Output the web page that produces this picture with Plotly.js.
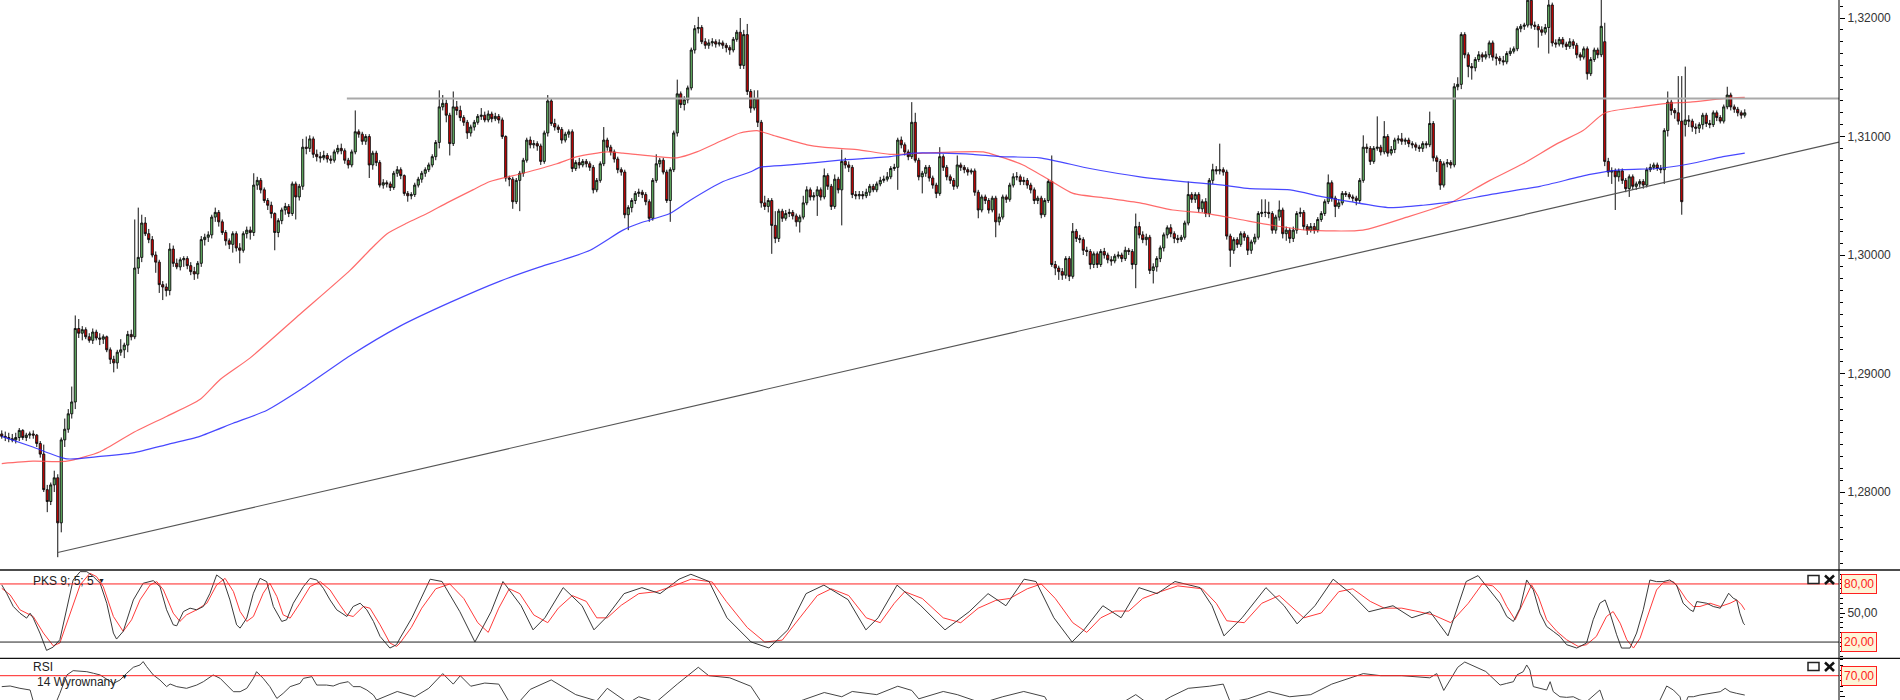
<!DOCTYPE html>
<html><head><meta charset="utf-8">
<script src="https://cdn.plot.ly/plotly-3.0.1.min.js"></script>
<style>html,body{margin:0;padding:0;background:#fff}#chart{width:1900px;height:700px}</style>
</head><body><div id="chart"></div>
<script>
// Prices are stored in pips above 1.2000 (e.g. 1052 -> 1.3052)
const barOpen = [
849,847,846,845,844,846,852,846,848,849,
848,841,832,802,792,806,812,774,844,853,
866,876,938,934,937,931,928,935,930,929,
931,920,912,909,918,920,924,933,931,989,
998,1027,1018,1013,1000,994,975,973,970,1005,
993,990,996,997,991,986,984,993,1013,1015,
1017,1032,1036,1028,1019,1012,1009,1018,1006,1004,
1018,1021,1019,1059,1063,1055,1046,1042,1035,1019,
1029,1038,1041,1035,1060,1049,1058,1091,1090,1098,
1085,1083,1082,1084,1081,1080,1087,1090,1088,1080,
1076,1087,1104,1102,1096,1100,1076,1086,1078,1059,
1061,1060,1057,1069,1072,1067,1052,1050,1051,1059,
1064,1069,1072,1076,1083,1095,1125,1128,1118,1094,
1125,1122,1116,1112,1103,1108,1112,1117,1118,1114,
1119,1115,1117,1114,1100,1065,1064,1045,1063,1069,
1080,1097,1093,1094,1092,1079,1103,1130,1111,1108,
1106,1097,1102,1104,1073,1078,1076,1079,1077,1074,
1055,1063,1077,1097,1091,1087,1081,1072,1070,1034,
1040,1046,1052,1053,1051,1045,1031,1063,1077,1080,
1070,1046,1072,1103,1136,1127,1131,1141,1173,1191,
1192,1180,1177,1179,1180,1178,1179,1177,1175,1173,
1182,1188,1160,1186,1138,1124,1132,1112,1044,1041,
1046,1025,1014,1037,1031,1035,1036,1033,1028,1032,
1044,1055,1049,1050,1055,1049,1067,1058,1041,1064,
1055,1079,1076,1074,1051,1050,1051,1050,1053,1058,
1055,1060,1063,1064,1066,1073,1074,1097,1093,1087,
1083,1112,1080,1066,1069,1074,1065,1059,1052,1083,
1074,1066,1063,1058,1076,1074,1072,1070,1071,1053,
1038,1049,1046,1038,1048,1028,1032,1049,1047,1059,
1066,1066,1062,1063,1059,1055,1046,1048,1034,1046,
1062,992,989,986,983,997,982,1020,1014,1013,
1004,1003,992,1001,992,1003,1000,996,995,999,
1000,997,1004,1003,992,1024,1017,1013,1015,987,
990,997,1006,1017,1023,1018,1014,1013,1015,1027,
1051,1047,1051,1039,1045,1035,1063,1072,1071,1072,
1070,1016,1004,1013,1009,1018,1015,1004,1011,1015,
1035,1036,1036,1035,1021,1032,1038,1018,1021,1014,
1021,1035,1036,1024,1021,1024,1021,1030,1035,1045,
1061,1048,1041,1044,1052,1051,1049,1048,1046,1063,
1091,1090,1079,1090,1091,1087,1100,1086,1089,1097,
1098,1096,1097,1094,1093,1091,1090,1094,1093,1111,
1082,1079,1059,1077,1078,1076,1142,1144,1186,1169,
1159,1158,1165,1169,1167,1169,1179,1167,1166,1164,
1163,1170,1172,1174,1191,1193,1194,1215,1194,1193,
1190,1188,1192,1211,1179,1178,1182,1178,1176,1180,
1177,1169,1167,1174,1153,1165,1173,1169,1180,1079,
1070,1071,1066,1071,1063,1056,1066,1058,1060,1062,
1059,1072,1074,1076,1073,1072,1105,1129,1122,1120,
1113,1110,1114,1113,1108,1107,1110,1118,1111,1110,
1120,1116,1113,1125,1135,1125,1123,1120,1118];
const barHigh = [
852,851,850,849,850,854,853,850,851,852,
849,843,840,806,808,818,815,846,862,870,
889,949,946,940,939,934,938,937,934,933,
932,922,915,920,929,926,936,937,1030,1040,
1034,1032,1022,1016,1003,996,978,976,1010,1008,
997,998,999,999,994,990,995,1016,1018,1020,
1034,1040,1038,1030,1021,1014,1020,1020,1010,1020,
1024,1024,1069,1066,1065,1057,1048,1045,1036,1031,
1040,1044,1043,1062,1062,1060,1098,1100,1101,1100,
1089,1087,1088,1086,1084,1089,1093,1094,1090,1082,
1089,1122,1106,1104,1102,1102,1088,1088,1080,1064,
1063,1062,1071,1075,1074,1068,1054,1053,1061,1066,
1071,1074,1078,1085,1097,1139,1135,1131,1120,1138,
1130,1126,1118,1114,1110,1114,1119,1124,1121,1122,
1121,1120,1119,1116,1101,1067,1066,1065,1071,1082,
1099,1100,1097,1096,1094,1105,1135,1132,1115,1110,
1108,1104,1106,1106,1080,1082,1081,1081,1079,1076,
1065,1079,1108,1099,1093,1089,1083,1074,1072,1042,
1048,1054,1056,1055,1053,1047,1065,1085,1082,1082,
1072,1074,1105,1148,1138,1134,1143,1175,1194,1201,
1194,1183,1182,1183,1182,1182,1181,1179,1177,1184,
1190,1200,1190,1195,1140,1139,1139,1114,1050,1048,
1048,1037,1039,1039,1038,1039,1038,1035,1034,1050,
1058,1057,1053,1058,1057,1073,1069,1060,1068,1066,
1089,1082,1079,1076,1054,1054,1054,1056,1060,1060,
1062,1066,1067,1070,1075,1077,1099,1100,1095,1089,
1129,1120,1082,1071,1076,1076,1067,1061,1091,1085,
1076,1068,1065,1084,1078,1076,1074,1073,1073,1055,
1051,1051,1048,1050,1050,1035,1051,1051,1061,1069,
1070,1068,1066,1065,1061,1057,1050,1050,1048,1064,
1084,995,991,989,999,999,1027,1022,1017,1015,
1007,1005,1003,1003,1005,1006,1002,999,1001,1003,
1002,1007,1006,1005,1035,1028,1020,1018,1017,993,
999,1008,1019,1025,1026,1020,1017,1017,1029,1062,
1053,1053,1053,1047,1048,1065,1077,1075,1094,1074,
1072,1018,1015,1015,1020,1020,1017,1013,1018,1037,
1047,1047,1045,1037,1034,1046,1040,1024,1023,1024,
1037,1040,1038,1026,1027,1027,1032,1037,1047,1068,
1063,1050,1047,1054,1054,1053,1051,1050,1065,1101,
1094,1092,1092,1117,1093,1113,1102,1092,1099,1101,
1103,1099,1099,1096,1095,1093,1096,1096,1121,1113,
1084,1081,1079,1081,1080,1145,1150,1188,1188,1171,
1162,1167,1172,1171,1172,1181,1181,1170,1168,1168,
1172,1175,1176,1193,1195,1196,1225,1220,1197,1195,
1193,1195,1220,1213,1182,1184,1184,1180,1183,1182,
1179,1171,1176,1176,1167,1175,1175,1218,1196,1082,
1074,1073,1073,1073,1065,1068,1068,1062,1064,1064,
1074,1077,1078,1078,1076,1107,1138,1131,1124,1151,
1151,1159,1118,1115,1111,1112,1120,1120,1114,1122,
1122,1118,1127,1142,1137,1127,1125,1122,1123];
const barLow = [
845,843,842,842,841,843,844,843,845,845,
838,829,800,783,789,800,745,766,838,850,
862,870,930,928,929,926,925,928,924,925,
918,908,901,904,915,913,918,928,929,984,
994,1016,1010,998,985,968,962,965,966,990,
988,987,990,988,983,979,980,990,1008,1011,
1014,1028,1024,1017,1008,1005,1002,1003,993,1002,
1014,1013,1016,1055,1052,1044,1038,1031,1004,1015,
1026,1034,1032,1033,1030,1046,1055,1085,1087,1082,
1079,1078,1080,1078,1077,1078,1085,1085,1077,1073,
1074,1085,1099,1093,1093,1065,1072,1075,1057,1056,
1057,1054,1055,1066,1064,1050,1045,1047,1049,1057,
1061,1066,1070,1074,1080,1090,1122,1112,1084,1092,
1118,1113,1109,1098,1100,1105,1110,1114,1112,1112,
1112,1113,1111,1098,1062,1058,1039,1043,1037,1066,
1078,1090,1090,1088,1076,1077,1100,1109,1105,1103,
1094,1095,1099,1070,1071,1073,1074,1074,1071,1052,
1053,1061,1075,1088,1084,1078,1069,1067,1031,1021,
1036,1043,1049,1048,1042,1028,1029,1061,1074,1068,
1044,1028,1070,1100,1124,1122,1128,1139,1170,1187,
1178,1174,1174,1176,1175,1176,1174,1171,1169,1171,
1180,1157,1157,1135,1120,1122,1108,1040,1038,1036,
1001,1010,1011,1028,1029,1032,1030,1024,1019,1030,
1042,1046,1046,1033,1046,1047,1055,1038,1039,1052,
1025,1073,1070,1048,1047,1047,1047,1048,1050,1053,
1053,1058,1061,1062,1064,1071,1055,1090,1084,1080,
1081,1078,1063,1052,1066,1062,1056,1048,1050,1071,
1063,1060,1055,1056,1071,1069,1067,1068,1050,1031,
1036,1043,1035,1036,1015,1025,1030,1044,1045,1057,
1063,1059,1059,1056,1052,1043,1043,1031,1032,1044,
990,983,979,979,980,978,980,1011,1010,1000,
999,988,989,989,990,997,993,991,993,997,
994,995,1000,988,972,1014,1010,1008,984,976,
986,994,1003,1014,1015,1010,1010,1011,1013,1025,
1044,1044,1036,1036,1032,1032,1060,1068,1068,1067,
1013,990,1001,1006,1007,1012,1000,1001,1009,1013,
1032,1032,1031,1018,1018,1029,1014,1012,1010,1011,
1018,1032,1021,1017,1019,1018,1019,1028,1033,1043,
1045,1032,1039,1042,1049,1047,1045,1042,1044,1061,
1086,1076,1077,1088,1084,1085,1083,1084,1086,1094,
1093,1093,1091,1090,1088,1087,1087,1090,1091,1079,
1070,1055,1057,1074,1073,1074,1139,1140,1166,1150,
1148,1155,1163,1163,1165,1166,1164,1160,1161,1160,
1161,1168,1170,1172,1188,1190,1192,1191,1190,1175,
1185,1186,1170,1176,1175,1176,1175,1173,1174,1174,
1166,1164,1165,1148,1151,1163,1166,1167,1075,1066,
1060,1038,1062,1060,1053,1049,1055,1055,1057,1056,
1057,1070,1072,1071,1069,1060,1100,1118,1115,1110,
1034,1100,1108,1104,1102,1103,1106,1108,1107,1108,
1113,1111,1111,1123,1122,1120,1117,1115,1116];
const barClose = [
847,846,845,844,846,852,846,848,849,848,
841,832,802,792,806,812,774,844,853,866,
876,938,934,937,931,928,935,930,929,931,
920,912,909,918,920,924,933,931,989,998,
1027,1018,1013,1000,994,975,973,970,1005,993,
990,996,997,991,986,984,993,1013,1015,1017,
1032,1036,1028,1019,1012,1009,1018,1006,1004,1018,
1021,1019,1059,1063,1055,1046,1042,1035,1019,1029,
1038,1041,1035,1060,1049,1058,1091,1090,1098,1085,
1083,1082,1084,1081,1080,1087,1090,1088,1080,1076,
1087,1104,1102,1096,1100,1076,1086,1078,1059,1061,
1060,1057,1069,1072,1067,1052,1050,1051,1059,1064,
1069,1072,1076,1083,1095,1125,1128,1118,1094,1125,
1122,1116,1112,1103,1108,1112,1117,1118,1114,1119,
1115,1117,1114,1100,1065,1064,1045,1063,1069,1080,
1097,1093,1094,1092,1079,1103,1130,1111,1108,1106,
1097,1102,1104,1073,1078,1076,1079,1077,1074,1055,
1063,1077,1097,1091,1087,1081,1072,1070,1034,1040,
1046,1052,1053,1051,1045,1031,1063,1077,1080,1070,
1046,1072,1103,1136,1127,1131,1141,1173,1191,1192,
1180,1177,1179,1180,1178,1179,1177,1175,1173,1182,
1188,1160,1186,1138,1124,1132,1112,1044,1041,1046,
1025,1014,1037,1031,1035,1036,1033,1028,1032,1044,
1055,1049,1050,1055,1049,1067,1058,1041,1064,1055,
1079,1076,1074,1051,1050,1051,1050,1053,1058,1055,
1060,1063,1064,1066,1073,1074,1097,1093,1087,1083,
1112,1080,1066,1069,1074,1065,1059,1052,1083,1074,
1066,1063,1058,1076,1074,1072,1070,1071,1053,1038,
1049,1046,1038,1048,1028,1032,1049,1047,1059,1066,
1066,1062,1063,1059,1055,1046,1048,1034,1046,1062,
992,989,986,983,997,982,1020,1014,1013,1004,
1003,992,1001,992,1003,1000,996,995,999,1000,
997,1004,1003,992,1024,1017,1013,1015,987,990,
997,1006,1017,1023,1018,1014,1013,1015,1027,1051,
1047,1051,1039,1045,1035,1063,1072,1071,1072,1070,
1016,1004,1013,1009,1018,1015,1004,1011,1015,1035,
1036,1036,1035,1021,1032,1038,1018,1021,1014,1021,
1035,1036,1024,1021,1024,1021,1030,1035,1045,1061,
1048,1041,1044,1052,1051,1049,1048,1046,1063,1091,
1090,1079,1090,1091,1087,1100,1086,1089,1097,1098,
1096,1097,1094,1093,1091,1090,1094,1093,1111,1082,
1079,1059,1077,1078,1076,1142,1144,1186,1169,1159,
1158,1165,1169,1167,1169,1179,1167,1166,1164,1163,
1170,1172,1174,1191,1193,1194,1215,1194,1193,1190,
1188,1192,1211,1179,1178,1182,1178,1176,1180,1177,
1169,1167,1174,1153,1165,1173,1169,1193,1079,1070,
1071,1066,1071,1063,1056,1066,1058,1060,1062,1059,
1072,1074,1076,1073,1072,1105,1129,1122,1120,1113,
1045,1114,1113,1108,1107,1110,1118,1111,1110,1120,
1116,1113,1125,1135,1125,1123,1120,1118,1120];

// Moving averages (bar index, pips above 1.2000)
const maRedIdx = [0,8.9,18.6,28.1,37.5,47.2,56.6,62.4,70.9,85.2,99.5,106.1,110.1,115.8,121.5,127.2,134.6,139.5,148.9,158.6,164.4,172.9,177.5,187.2,192.9,198.6,206.1,210.9,215.8,220.4,230.1,234.6,244.4,253.8,263.2,272.9,280.4,285.2,291.8,299.5,306.1,315.8,325.2,334.6,344.4,353.8,363.2,372.9,388.9,401.5,414.6,420.4,425.2,434.6,444.4,451.8,458.1,468.1,475.8,482.4,491.8,498];
const maRedVal = [824,826,826,834,850,864,878,895,913,950,987,1007,1018,1027,1035,1044,1055,1062,1069,1077,1083,1087,1086,1083,1082,1087,1097,1103,1105,1101,1093,1091,1089,1085,1086,1087,1087,1083,1076,1063,1052,1048,1044,1038,1035,1030,1025,1021,1021,1032,1045,1055,1063,1077,1094,1105,1120,1125,1128,1129,1132,1133];
const maBlueIdx = [0,8.9,18.6,28.1,37.5,47.2,56.6,66.1,75.8,85.2,99.5,113.8,128.1,142.4,153.8,160.4,168.1,177.5,182.4,190.9,196.6,206.1,213.8,216.6,225.2,239.5,253.8,260.4,268.1,277.5,285.2,296.6,310.9,325.2,337.5,348.9,356.6,368.1,377.5,385.2,396.6,406.1,414.6,425.2,439.5,453.8,463.2,472.9,482.4,491.8,498];
const maBlueVal = [847,838,828,830,833,840,847,858,869,886,915,940,960,978,990,996,1004,1021,1027,1035,1046,1062,1070,1074,1076,1080,1083,1086,1086,1085,1083,1082,1073,1066,1062,1059,1056,1055,1049,1045,1040,1042,1045,1051,1058,1068,1072,1073,1077,1083,1086];

// Drawn lines: resistance level and rising support line
const levelPrice = 1.3132, levelFromIdx = 98.6;
const supportIdx = [16, 524.9];
const supportPrice = [1.27490, 1.30952];

// Stochastic PKS 9;5;5 (%K black, %D red)
const stochKIdx = [0,1.4,3.3,5.2,7.1,8.1,9.0,10.9,12.8,14.7,16.6,18.6,20.4,22.4,24.3,26.2,28.1,30,31.9,32.8,34.7,37.6,40.4,43.3,45.2,47.1,49,50,51.9,53.8,55.7,57.6,59.5,61.4,63.3,65.2,67.1,68.1,70,71.9,73.8,75.7,77.6,80,81.4,83.3,86.2,88.1,90,91.9,93.8,95.7,98.6,100.4,102.4,104.3,106.2,108.1,110.9,112.8,113.8,117.2,122.4,125.8,130.9,135.2,139.8,143.2,148.4,151.8,155.2,160.4,165.8,169.2,172.6,177.8,182.9,188.1,193.5,196.9,202.1,207.2,214.1,219.2,224.6,229.8,234.9,241.8,246.9,250.4,255.8,262.6,269.5,276.4,281.8,286.9,292.1,295.5,300.6,305.8,309.2,314.6,319.8,324.9,330.1,335.2,342.4,345.8,349.2,354.4,361.2,366.4,370.1,375.2,380.4,385.5,390.6,397.5,402.9,408.1,413.2,418.4,421.8,428.1,430,431.9,433.8,435.7,437.6,439.5,441.4,443.3,445.2,447.1,450,452.8,454.7,456.6,458.1,459.5,461.4,462.8,465.2,467.1,469,470.9,472.8,474.7,476.6,478.5,480.4,482.4,483.3,484.3,487.1,489,491,493.4,494.7,495.7,496.6,497.6,498];
const stochKVal = [79.0,70.4,56.7,49.8,44.7,49.8,44.7,29.3,11.4,14.8,22.4,53.3,84.1,92.7,92.7,87.5,80.7,60.1,29.3,23.1,31.0,63.5,80.7,83.4,77.3,53.3,37.8,36.8,51.5,55.0,53.3,56.7,70.4,89.3,84.1,63.5,37.8,34.4,44.7,70.4,85.8,82.4,56.7,41.3,43.0,60.1,77.3,85.8,84.1,75.5,63.5,53.3,46.4,56.7,60.1,53.3,41.3,25.8,13.8,17.3,24.1,45.1,84.9,82.5,51.3,20.1,51.3,82.5,57.5,32.6,45.1,76.2,57.5,32.6,45.1,70.0,76.2,70.0,84.9,90,82.5,45.1,20.1,13.9,32.6,70.0,78.8,63.8,32.6,45.1,78.8,57.5,32.6,51.3,70.0,57.5,84.9,82.5,45.1,20.1,32.6,57.5,45.1,76.2,70.0,82.5,76.2,57.5,26.4,45.1,76.2,57.5,38.8,57.5,84.9,70.0,51.3,57.5,45.1,51.3,26.4,82.5,88.6,60.1,46.4,41.3,55.0,84.1,73.8,49.8,36.1,31.0,25.8,17.3,13.8,19.0,43.0,60.1,63.5,49.8,27.5,13.8,13.8,29.3,53.3,84.1,82.4,82.4,84.1,79.0,60.1,53.3,51.5,61.8,60.1,56.7,55.0,70.4,65.3,63.5,49.8,39.5,37.8];
const stochDIdx = [0,2.4,5.2,9,11.9,14.7,16.6,19.5,22.4,25.2,27.1,29,31.9,34.7,37.1,39.5,42.4,44.3,46.2,49,50.9,52.8,55.7,58.6,61.4,63.8,66.2,68.1,70,71.9,74.7,76.6,78.6,80.4,82.4,85.2,88.1,91,93.8,96.6,98.6,100.4,103.3,105.2,108.1,110.9,112.8,113.8,117,120,124,128,132,136,139,142,145,148,152,156,159,163,167,170,173,177,182,187,192,197,203,207,213,218,223,228,233,237,242,247,251,255,258,263,269,274,279,284,288,293,297,301,306,310,314,318,322,326,331,336,343,347,350,355,360,365,369,372,377,382,386,391,395,400,404,409,414,419,423,426,428.1,430,432.4,434.7,437.1,439,441.4,444.3,447.1,450.4,452.8,455.6,458.5,460.4,462.4,464.3,466.2,468.1,470.5,472.8,474.7,477.6,479.5,481.4,483.3,485.2,488.1,491,493.8,495.7,497.1,498];
const stochDVal = [75.5,68.7,53.3,46.4,29.3,16.2,19.0,49.8,79.0,91.0,87.5,77.3,46.4,31.0,43.0,63.5,79.0,82.4,73.8,49.8,41.3,48.1,53.3,60.1,79.0,85.8,72.1,51.5,41.3,46.4,70.4,80.7,67.0,48.1,44.7,60.1,77.3,82.4,73.8,58.4,48.1,46.4,56.7,55.0,37.8,19.0,15.5,19.0,35,55,75,80,65,40,30,55,75,70,48,40,55,68,62,45,45,58,70,72,78,85,82,62,35,20,22,45,68,75,68,45,40,60,72,65,45,40,55,63,65,75,80,65,40,30,45,52,52,65,72,78,75,60,42,40,60,68,55,45,50,72,75,62,55,55,52,48,40,60,80,78,70.4,56.7,43.0,60.1,79.0,67.0,43.0,31.0,22.4,15.5,17.3,25.8,46.4,51.5,39.5,22.4,13.8,24.1,49.8,73.8,81.4,82.4,73.8,63.5,56.7,56.7,60.1,56.7,60.1,63.5,58.4,53.3];

// RSI 14
const rsiIdx = [0,2.4,5.2,8.1,8.9,10.9,13.8,15.2,16.6,18.6,20.4,24.3,26.2,28.1,31.9,33.8,35.7,37.6,39.5,40.4,41.4,43.3,45.2,47.1,48.1,50,52.8,55.7,57.6,60.4,62.4,64.3,66.2,68.1,70,71.9,72.8,74.7,76.6,78.6,80.4,82.4,85.2,86.2,88.6,90,92.8,94.7,96.6,99,100.4,102.4,104.3,106.2,107.1,113,118,122,126,129,131,134,138,142,145,147,151,157,161,164,170,173,179,182,187,193,199,202,208,214,218,222,229,235,240,243,250,256,260,262,269,273,280,286,292,298,300,306,312,320,324,329,334,339,345,349,351,356,362,368,374,380,389,394,400,408,410,412,416,418,424,428.1,430,431.9,432.9,434.7,435.7,436.6,437.6,439.5,441.4,442.4,443.3,445.2,447.1,449,450.9,452.8,456.6,457.6,458.4,472.6,473.8,475.7,477.6,479.5,480.4,481.8,483.3,485.2,488.1,491,492.4,493.8,495.7,498];
const rsiVal = [59.6,60.2,58.0,56.4,46.9,40,38,42,53.2,70.7,74.8,73.8,72.3,70.7,62.7,65.9,72.3,78.0,80.2,83.4,78.6,70.7,65.9,59.6,62.1,59.6,58.0,61.1,64.3,70.7,67.5,61.1,54.8,54.8,58.0,67.5,73.8,67.5,59.6,48.4,53.2,59.6,62.7,67.5,69.1,61.1,61.1,60.2,62.7,64.3,59.6,59.6,56.4,51.6,46.9,55,50,58,72,62,70,60,63,62,45,42,57,66,58,52,46,58,44,50,45,62,78,70,68,60,40,38,47,54,50,55,52,60,56,48,55,52,44,50,55,50,38,45,40,44,52,40,50,58,60,62,45,48,55,50,52,62,72,70,70,68,72,56,78,83,74,61.1,62.7,64.3,70.7,73.8,80.2,75.4,59.6,58.0,56.4,64.3,54.8,50.0,49.4,50.0,46.9,45.3,56.4,46.9,30,40,46.9,60.2,56.4,50.0,38,50.0,50.0,51.6,53.2,54.8,58.0,54.8,53.2,51.6];

// ---------- build ----------
const toPrice = v => 1.2 + v / 10000;
const barIdx = barClose.map((_, i) => i);
const X_MIN = -0.5, X_MAX = 524.93;
const PLOT_W = 1839, H = 700;
const px = x => x / PLOT_W;          // paper x from pixel
const py = y => 1 - y / H;           // paper y from pixel

const traces = [
  {type:'scatter', mode:'lines', x:maRedIdx, y:maRedVal.map(toPrice), line:{color:'rgba(255,70,70,0.8)', width:1.2, shape:'spline', smoothing:0.6}, hoverinfo:'skip', xaxis:'x', yaxis:'y'},
  {type:'scatter', mode:'lines', x:maBlueIdx, y:maBlueVal.map(toPrice), line:{color:'rgba(40,40,255,0.85)', width:1.2, shape:'spline', smoothing:0.6}, hoverinfo:'skip', xaxis:'x', yaxis:'y'},
  {type:'scatter', mode:'lines', x:[levelFromIdx, X_MAX], y:[levelPrice, levelPrice], line:{color:'#a9a9a9', width:2}, hoverinfo:'skip', xaxis:'x', yaxis:'y'},
  {type:'scatter', mode:'lines', x:supportIdx, y:supportPrice, line:{color:'#555', width:1.2}, hoverinfo:'skip', xaxis:'x', yaxis:'y'},
  {type:'candlestick', x:barIdx, open:barOpen.map(toPrice), high:barHigh.map(toPrice), low:barLow.map(toPrice), close:barClose.map(toPrice),
   increasing:{line:{color:'#111', width:1}, fillcolor:'#6fc86f'},
   decreasing:{line:{color:'#111', width:1}, fillcolor:'#e00000'},
   whiskerwidth:0, hoverinfo:'skip', xaxis:'x', yaxis:'y'},
  {type:'scatter', mode:'lines', x:stochDIdx, y:stochDVal, line:{color:'#ff3b3b', width:1}, hoverinfo:'skip', xaxis:'x', yaxis:'y2'},
  {type:'scatter', mode:'lines', x:stochKIdx, y:stochKVal, line:{color:'#3a3a3a', width:1}, hoverinfo:'skip', xaxis:'x', yaxis:'y2'},
  {type:'scatter', mode:'lines', x:rsiIdx, y:rsiVal, line:{color:'#444', width:1}, hoverinfo:'skip', xaxis:'x', yaxis:'y3'}
];

const axisFont = {family:'Liberation Sans, Arial, sans-serif', size:12, color:'#333'};
const boxLabel = (text, yref, y) => ({xref:'paper', x:px(1841), xanchor:'left', yref, y, yanchor:'middle',
  text, showarrow:false, font:{family:'Liberation Sans, Arial, sans-serif', size:12, color:'#ff2020'},
  bgcolor:'#fdf5d8', bordercolor:'#ff2020', borderwidth:1, borderpad:2});
const txt = (text, x, y, size, extra) => Object.assign({xref:'paper', yref:'paper', x:px(x), y:py(y), xanchor:'left', yanchor:'middle',
  text, showarrow:false, font:{family:'Liberation Sans, Arial, sans-serif', size, color:'#222'}}, extra||{});

const icons = (yTop) => [
  {type:'rect', xref:'paper', yref:'paper', x0:px(1808), x1:px(1819), y0:py(yTop), y1:py(yTop+8), line:{color:'#222', width:1.5}},
  {type:'line', xref:'paper', yref:'paper', x0:px(1825), x1:px(1834), y0:py(yTop), y1:py(yTop+8.5), line:{color:'#111', width:2.5}},
  {type:'line', xref:'paper', yref:'paper', x0:px(1825), x1:px(1834), y0:py(yTop+8.5), y1:py(yTop), line:{color:'#111', width:2.5}}
];

const layout = {
  width:1900, height:700, margin:{l:0, r:61, t:0, b:0}, paper_bgcolor:'#fff', plot_bgcolor:'#fff',
  showlegend:false, separators:', ', boxgap:0.15,
  xaxis:{range:[X_MIN, X_MAX], type:'linear', showgrid:false, zeroline:false, showticklabels:false, ticks:'', showline:false, rangeslider:{visible:false}, fixedrange:true},
  yaxis:{domain:[py(570), 1], range:[toPrice(734.2), toPrice(1215.2)], side:'right', anchor:'x', showgrid:false, zeroline:false,
    tick0:1.28, dtick:0.01, tickformat:'.5f', ticks:'outside', ticklen:5, tickcolor:'#000', tickfont:axisFont,
    minor:{dtick:0.001, ticks:'outside', ticklen:3, tickcolor:'#000'}, showline:false},
  yaxis2:{domain:[py(657.3), py(570)], range:[4.26, 94.4], side:'right', anchor:'x', showgrid:false, zeroline:false,
    tickmode:'array', tickvals:[50], tickformat:'.2f', ticks:'outside', ticklen:5, tickcolor:'#000', tickfont:axisFont,
    minor:{tickmode:'linear', tick0:0, dtick:5, ticks:'outside', ticklen:3, tickcolor:'#000'}, showline:false},
  yaxis3:{domain:[0, py(659.5)], range:[46.9, 85.4], side:'right', anchor:'x', showgrid:false, zeroline:false,
    tickmode:'array', tickvals:[50], tickformat:'.2f', ticks:'outside', ticklen:5, tickcolor:'#000', tickfont:axisFont,
    minor:{tickmode:'linear', tick0:0, dtick:5, ticks:'outside', ticklen:3, tickcolor:'#000'}, showline:false},
  shapes:[
    {type:'line', xref:'paper', yref:'y2', x0:0, x1:1, y0:80, y1:80, line:{color:'#ff2020', width:1}},
    {type:'line', xref:'paper', yref:'y2', x0:0, x1:1, y0:20, y1:20, line:{color:'#222', width:1}},
    {type:'line', xref:'paper', yref:'y3', x0:0, x1:1, y0:70, y1:70, line:{color:'#ff2020', width:1}},
    {type:'line', xref:'paper', yref:'paper', x0:0, x1:px(1900), y0:py(570), y1:py(570), line:{color:'#111', width:1.3}},
    {type:'line', xref:'paper', yref:'paper', x0:0, x1:px(1900), y0:py(658.3), y1:py(658.3), line:{color:'#111', width:1.3}},
    {type:'line', xref:'paper', yref:'paper', x0:1, x1:1, y0:0, y1:1, line:{color:'#000', width:1}},
    ...icons(575.5), ...icons(662.5)
  ],
  annotations:[
    boxLabel('80,00', 'y2', 80), boxLabel('20,00', 'y2', 20), boxLabel('70,00', 'y3', 70),
    txt('PKS 9; 5; 5', 31, 581, 12),
    txt('▼', 96, 580, 7),
    txt('RSI', 31, 667, 12),
    txt('14 Wyrownany', 35, 681.5, 12),
    txt('▼', 119, 676, 7)
  ]
};

Plotly.newPlot('chart', traces, layout, {displayModeBar:false, staticPlot:true});
</script>
</body></html>
